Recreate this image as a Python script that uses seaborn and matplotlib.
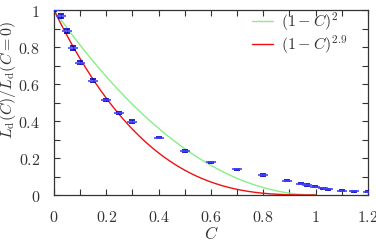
import numpy as np
import pandas as pd
import matplotlib
matplotlib.use("Agg")
import matplotlib.pyplot as plt
import seaborn as sns
from matplotlib.ticker import MultipleLocator, FuncFormatter

# data
C_data = [0.0, 0.027, 0.051, 0.074, 0.10, 0.15, 0.20, 0.25, 0.30, 0.40, 0.50, 0.60, 0.70,
          0.80, 0.89, 0.945, 0.967, 0.997, 1.03, 1.047, 1.10, 1.146, 1.20]
L_data = [1.0, 0.969, 0.886, 0.796, 0.715, 0.618, 0.514, 0.443, 0.395, 0.310, 0.238, 0.178, 0.140,
          0.108, 0.077, 0.061, 0.054, 0.045, 0.036, 0.031, 0.023, 0.020, 0.018]
L_err = [0.005, 0.012, 0.012, 0.010, 0.008, 0.008, 0.006, 0.006, 0.008, 0.004, 0.004, 0.003, 0.003,
         0.003, 0.003, 0.003, 0.003, 0.003, 0.002, 0.002, 0.002, 0.002, 0.004]
exponents = [2.0, 2.9]
curve_labels = [r"$(1-C)^2$", r"$(1-C)^{2.9}$"]
curve_colors = ["#88ee88", "#ee1111"]

sns.set_style("ticks")
plt.rcParams["mathtext.fontset"] = "cm"
plt.rcParams["font.family"] = ["DejaVu Serif"]

fig = plt.figure(figsize=(3.76, 2.40), dpi=100)
ax = fig.add_axes([0.1436, 0.1875, 0.835, 0.7705])

Cc = np.linspace(0, 1, 200)
rows = []
for e, lab in zip(exponents, curve_labels):
    for c in Cc:
        rows.append({"C": c, "L": (1 - c) ** e, "curve": lab})
df = pd.DataFrame(rows)
sns.lineplot(data=df, x="C", y="L", hue="curve", palette=dict(zip(curve_labels, curve_colors)),
             ax=ax, linewidth=1.0, legend=True)

ax.errorbar(C_data, L_data, yerr=L_err, fmt="_", color="#2222ff", mec="#4444ff",
            markersize=7, mew=1.2, ecolor="#0000bb", elinewidth=0.8, capsize=2.5, capthick=0.8,
            zorder=5)

ax.set_xlim(0, 1.2)
ax.set_ylim(0, 1)
ax.xaxis.set_major_locator(MultipleLocator(0.2))
ax.xaxis.set_minor_locator(MultipleLocator(0.1))
ax.yaxis.set_major_locator(MultipleLocator(0.2))
ax.yaxis.set_minor_locator(MultipleLocator(0.1))
fmt = FuncFormatter(lambda v, p: r"$%g$" % round(v, 2))
ax.xaxis.set_major_formatter(fmt)
ax.yaxis.set_major_formatter(fmt)
ax.tick_params(which="both", direction="in", top=True, right=True, length=4, width=0.8,
               colors="#333333", labelcolor="#333333", labelsize=11.5)
ax.tick_params(axis="y", pad=10)
ax.tick_params(axis="x", pad=10)
for s in ax.spines.values():
    s.set_color("#333333")
    s.set_linewidth(0.9)

ax.set_xlabel(r"$C$", fontsize=12, color="#333333")
ax.xaxis.set_label_coords(0.5, -0.17)
ax.set_ylabel(r"$L_{\mathrm{d}}(C)/L_{\mathrm{d}}(C=0)$", fontsize=11.5, color="#333333")
ax.yaxis.set_label_coords(-0.115, 0.62)

leg = ax.legend(loc="upper right", bbox_to_anchor=(0.955, 1.03), frameon=False, fontsize=11.5,
                handlelength=1.3, handletextpad=0.5, labelcolor="#333333", borderaxespad=0,
                labelspacing=0.02)

fig.savefig("out.png", dpi=100)
